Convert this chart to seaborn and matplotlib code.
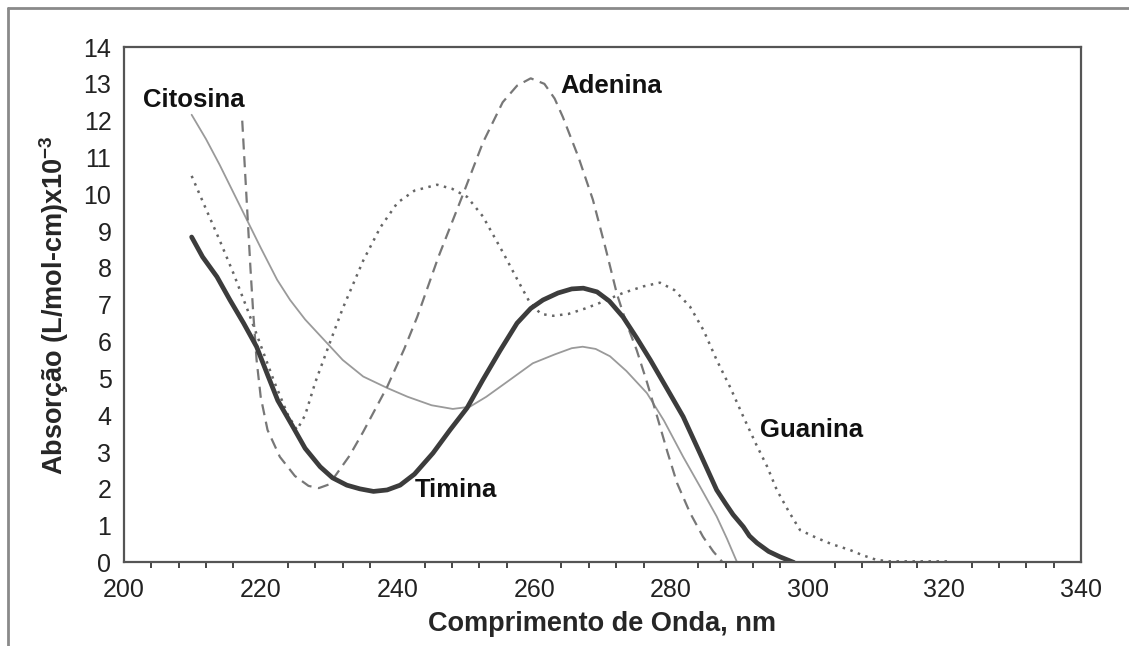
import matplotlib
matplotlib.use("Agg")
import matplotlib.pyplot as plt
from matplotlib.ticker import MultipleLocator
from matplotlib.lines import Line2D
import seaborn as sns
import pandas as pd

# ---- data ----
timina_x = [209.9, 211.5, 213.6, 215.5, 217.5, 219.4, 221.0, 222.5, 224.7, 226.5, 228.7, 230.5,
            232.6, 234.5, 236.5, 238.5, 240.4, 242.5, 245.2, 247.7, 250.2, 252.5, 255.0, 257.5,
            259.5, 261.3, 263.5, 265.5, 267.2, 269.2, 271.0, 273.0, 275.0, 277.0, 279.5, 281.8,
            284.3, 286.7, 288.0, 289.1, 290.6, 291.5, 292.6, 294.3, 296.0, 298.0]
timina_y = [8.84, 8.3, 7.76, 7.13, 6.5, 5.86, 5.1, 4.4, 3.69, 3.1, 2.6, 2.3,
            2.1, 2.0, 1.93, 1.97, 2.1, 2.4, 2.97, 3.6, 4.2, 4.96, 5.75, 6.5,
            6.9, 7.13, 7.32, 7.43, 7.45, 7.35, 7.1, 6.67, 6.1, 5.5, 4.7, 3.96,
            2.95, 1.97, 1.6, 1.3, 0.97, 0.72, 0.53, 0.3, 0.15, 0.0]

citosina_x = [209.9, 212.0, 214.0, 216.0, 218.0, 220.0, 222.4, 224.3, 226.5, 229.7, 232.0, 235.0,
              238.5, 241.5, 245.0, 248.1, 250.6, 253.0, 256.0, 259.8, 263.0, 265.5, 267.1, 269.0,
              271.1, 273.5, 276.5, 279.0, 281.8, 284.3, 286.7, 288.2, 289.7]
citosina_y = [12.16, 11.5, 10.8, 10.05, 9.3, 8.55, 7.68, 7.13, 6.6, 5.96, 5.5, 5.05,
              4.74, 4.5, 4.27, 4.17, 4.23, 4.5, 4.9, 5.41, 5.65, 5.82, 5.86, 5.8,
              5.6, 5.2, 4.6, 3.85, 2.87, 2.05, 1.25, 0.65, 0.0]

adenina_x = [217.3, 217.6, 217.9, 218.2, 218.5, 218.9, 219.4, 220.0, 221.0, 222.8, 225.0, 227.0,
             228.5, 230.0, 231.2, 233.0, 235.0, 238.5, 241.0, 242.9, 246.0, 249.6, 252.5, 255.4,
             257.5, 259.5, 261.5, 263.0, 264.2, 266.5, 268.6, 270.5, 272.1, 273.5, 275.0, 276.5,
             278.0, 279.5, 280.9, 282.8, 284.7, 286.2, 287.6]
adenina_y = [12.0, 11.0, 10.0, 9.0, 8.0, 6.8, 5.5, 4.5, 3.6, 2.87, 2.35, 2.08,
             2.02, 2.12, 2.43, 2.9, 3.55, 4.77, 5.8, 6.67, 8.3, 10.0, 11.4, 12.5,
             12.95, 13.15, 13.0, 12.6, 12.1, 11.0, 9.85, 8.5, 7.3, 6.5, 5.77, 4.9,
             3.96, 3.0, 2.16, 1.35, 0.7, 0.3, 0.0]

guanina_x = [209.9, 212.0, 214.0, 216.0, 218.0, 220.0, 222.0, 224.0, 225.3, 226.5, 228.0, 230.1,
             232.0, 235.0, 237.5, 240.0, 242.5, 245.8, 248.0, 250.2, 252.5, 255.5, 257.5, 259.4,
             261.0, 262.8, 265.0, 267.5, 269.6, 273.0, 276.0, 278.4, 280.5, 282.8, 284.8, 286.7,
             288.7, 290.6, 292.5, 294.1, 295.5, 297.2, 298.9, 301.3, 303.5, 306.2, 308.0, 310.1,
             312.0, 316.0, 320.4]
guanina_y = [10.5, 9.6, 8.75, 7.86, 6.9, 5.9, 4.9, 4.0, 3.6, 4.0, 4.9, 5.96,
             6.9, 8.2, 9.1, 9.77, 10.1, 10.26, 10.15, 9.93, 9.4, 8.4, 7.7, 7.05,
             6.75, 6.7, 6.75, 6.9, 7.05, 7.32, 7.5, 7.6, 7.4, 6.95, 6.3, 5.5,
             4.75, 3.96, 3.2, 2.6, 1.97, 1.4, 0.88, 0.67, 0.5, 0.34, 0.2, 0.07,
             0.03, 0.03, 0.03]

x_ticks = [200, 220, 240, 260, 280, 300, 320, 340]
y_ticks = list(range(0, 15))

labels = ["Citosina", "Adenina", "Guanina", "Timina"]

# ---- style ----
sns.set_style("white")
plt.rcParams['font.family'] = ['Liberation Sans', 'DejaVu Sans']
plt.rcParams['mathtext.fontset'] = 'custom'
plt.rcParams['mathtext.rm'] = 'Liberation Sans'
plt.rcParams['mathtext.bf'] = 'Liberation Sans:bold'

fig = plt.figure(figsize=(11.29, 6.46), dpi=100)
ax = fig.add_axes([0.1098, 0.1293, 0.8477, 0.7979])

def df(x, y):
    return pd.DataFrame({"x": x, "y": y})

sns.lineplot(data=df(citosina_x, citosina_y), x="x", y="y", sort=False, ax=ax,
             color="#9a9a9a", linewidth=1.3)
sns.lineplot(data=df(guanina_x, guanina_y), x="x", y="y", sort=False, ax=ax,
             color="#666666", linewidth=1.8, linestyle=(0, (1, 2.2)))
sns.lineplot(data=df(adenina_x, adenina_y), x="x", y="y", sort=False, ax=ax,
             color="#777777", linewidth=1.6, linestyle=(0, (5, 3)))
sns.lineplot(data=df(timina_x, timina_y), x="x", y="y", sort=False, ax=ax,
             color="#3c3c3c", linewidth=3.4)

ax.set_xlim(200, 340)
ax.set_ylim(0, 14)
ax.set_xticks(x_ticks)
ax.set_yticks(y_ticks)
ax.xaxis.set_minor_locator(MultipleLocator(4))
ax.tick_params(axis="both", which="major", direction="out", length=5, width=1.4,
               color="#444444", labelsize=18, labelcolor="#222222")
ax.tick_params(axis="x", which="minor", direction="out", length=4, width=1.4,
               color="#444444", bottom=True)
ax.tick_params(axis="x", which="major", pad=6)
ax.tick_params(axis="y", which="major", pad=4)
for s in ax.spines.values():
    s.set_visible(True)
    s.set_color("#555555")
    s.set_linewidth(1.6)

ax.set_xlabel("Comprimento de Onda, nm", fontsize=19.5, fontweight="bold", labelpad=7)
ax.set_ylabel(r"Absorção (L/mol-cm)x10$^{\mathbf{-3}}$", fontsize=19.5, fontweight="bold",
              labelpad=9)

# curve labels
lab_pos = [(202.8, 12.57), (263.8, 12.95), (293.0, 3.6), (242.6, 1.97)]
for t, (lx, ly) in zip(labels, lab_pos):
    ax.text(lx, ly, t, fontsize=18.5, fontweight="bold", color="#111111",
            ha="left", va="center")

# outer frame (left and top edges)
fig.add_artist(Line2D([8 / 1129, 8 / 1129], [0, 1 - 8 / 646], transform=fig.transFigure,
                      color="#8a8a8a", linewidth=2))
fig.add_artist(Line2D([8 / 1129, 1], [1 - 8 / 646, 1 - 8 / 646], transform=fig.transFigure,
                      color="#8a8a8a", linewidth=2))

fig.savefig("out.png", dpi=100)
